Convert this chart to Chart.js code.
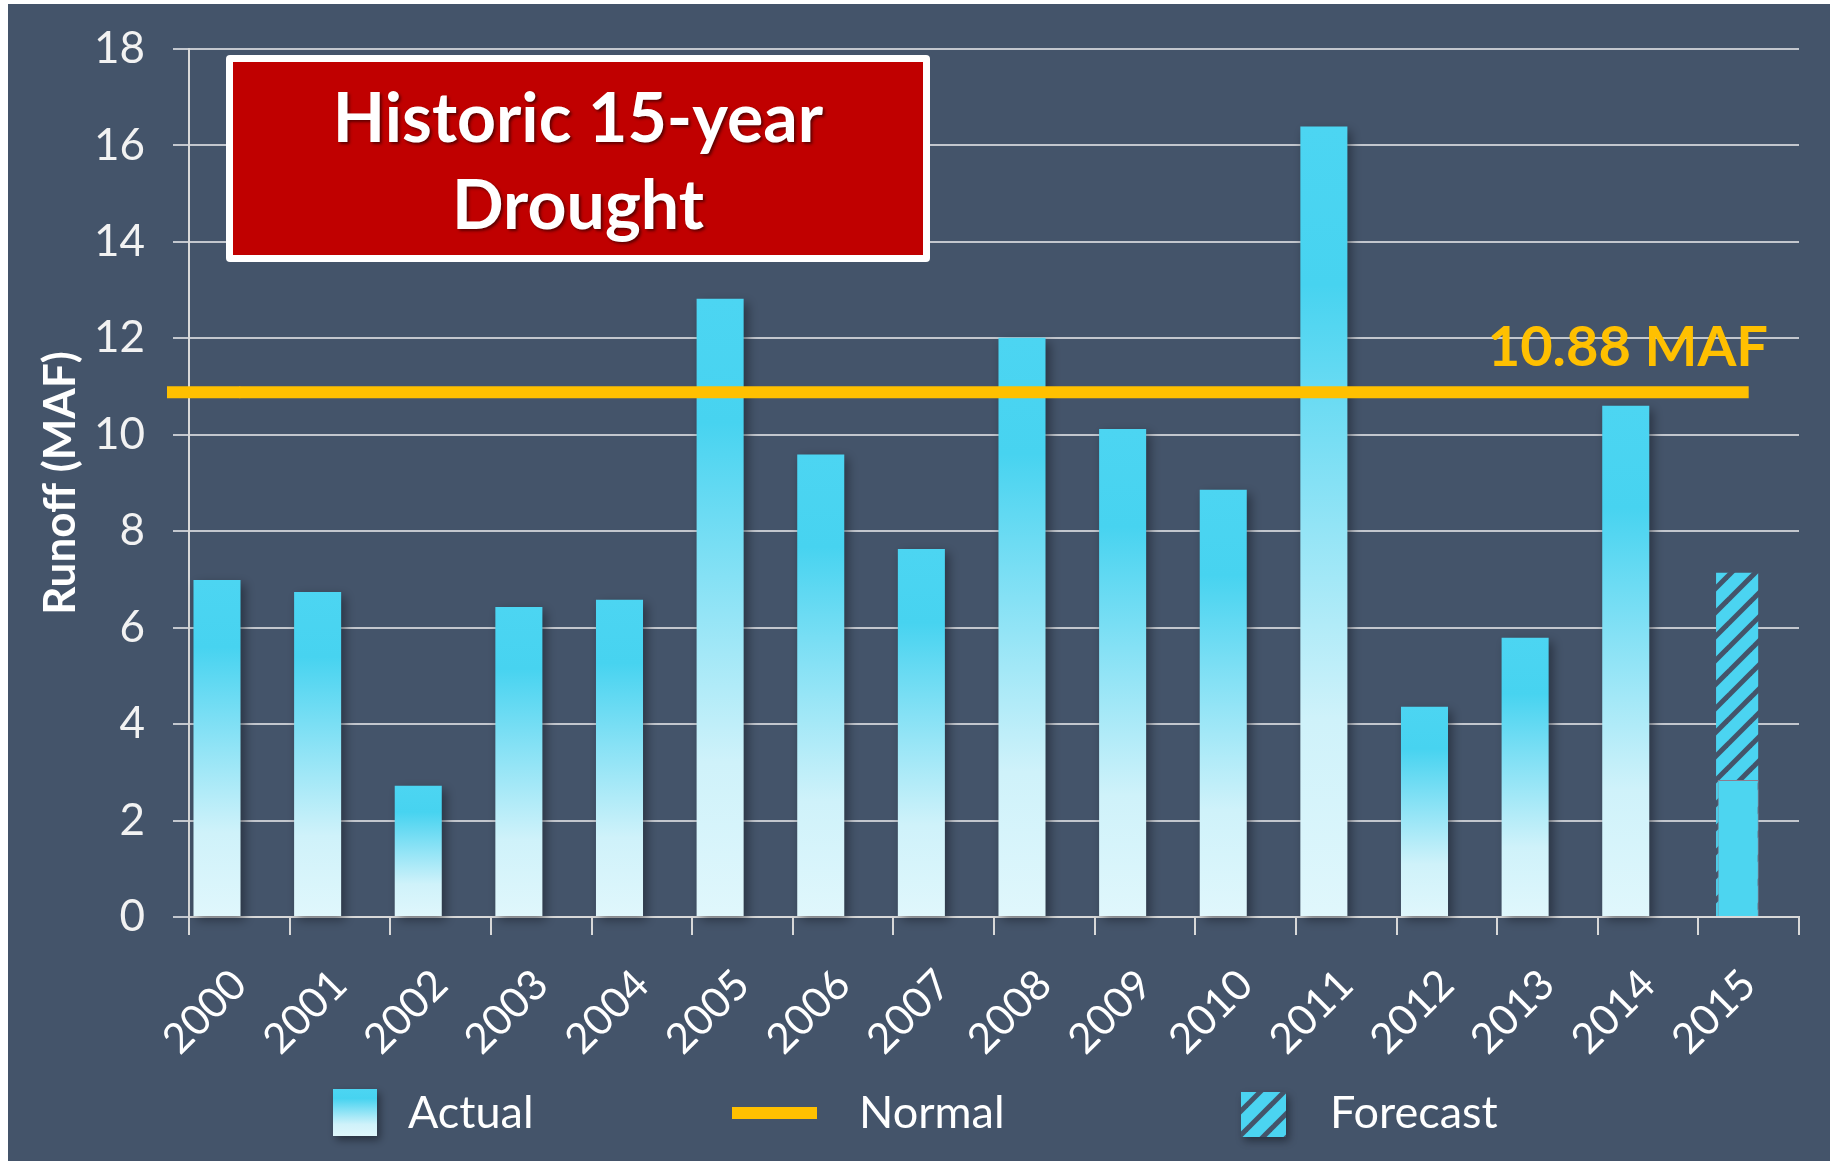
<!DOCTYPE html>
<html><head><meta charset="utf-8">
<script src="https://cdn.jsdelivr.net/npm/chart.js@4.4.0/dist/chart.umd.min.js"></script>
<style>
html,body{margin:0;padding:0;background:#ffffff;}
#wrap{position:relative;width:1830px;height:1161px;}
canvas{display:block;}
</style></head><body>
<div id="wrap"><canvas id="c" width="1830" height="1161"></canvas></div>
<script>
// ---------- data ----------
const years = ['2000','2001','2002','2003','2004','2005','2006','2007','2008','2009','2010','2011','2012','2013','2014','2015'];
const actual = [6.99, 6.74, 2.72, 6.43, 6.58, 12.82, 9.59, 7.63, 12.01, 10.12, 8.86, 16.39, 4.36, 5.79, 10.60, 2.84];
const forecast = [null, null, null, null, null, null, null, null, null, null, null, null, null, null, null, 7.14];
const normalValue = 10.88;
const yMin = 0, yMax = 18, yStep = 2;
const yTitle = 'Runoff (MAF)';
const normalLabel = '10.88 MAF';
const titleLines = ['Historic 15-year', 'Drought'];
const legendLabels = ['Actual', 'Normal', 'Forecast'];

// ---------- styles ----------
const BG = '#44546A';
const CYAN = '#4BD4F1';
const GOLD = '#FFC000';
const FONT = 'Lato, "Open Sans", sans-serif';
const gradStops = [[0,'#4CD5F2'],[0.2,'#47D3F0'],[0.45,'#85E1F5'],[0.75,'#CFF2FA'],[1,'#E0F7FC']];

function makeHatch(){
  const T = 24;
  const c = document.createElement('canvas');
  c.width = T; c.height = T;
  const g = c.getContext('2d');
  g.fillStyle = CYAN; g.fillRect(0,0,T,T);
  g.strokeStyle = BG; g.lineWidth = 5;
  for (let k=0;k<3;k++){
    g.beginPath(); g.moveTo(-T, k*T+T); g.lineTo(k*T+T, -T); g.stroke();
  }
  return c;
}
const hatchTile = makeHatch();
const ctx0 = document.getElementById('c').getContext('2d');
const hatch = ctx0.createPattern(hatchTile, 'repeat');

function vGradient(ctx, top, bot){
  const g = ctx.createLinearGradient(0, top, 0, bot);
  gradStops.forEach(s => g.addColorStop(s[0], s[1]));
  return g;
}

function actualFill(c){
  const chart = c.chart;
  if (!chart.chartArea || c.type !== 'data' || c.raw == null) return CYAN;
  const y = chart.scales.y;
  return vGradient(chart.ctx, y.getPixelForValue(c.raw), y.getPixelForValue(0));
}

// Actual split: years with a forecast get the flat forecast-year bar
const actualMeasured = actual.map((v, i) => forecast[i] == null ? v : null);
const actualPartial = actual.map((v, i) => forecast[i] != null ? v : null);
const normalData = years.map(() => normalValue);
const spacer = years.map(() => null);

// ---------- plugins ----------
const bgPlugin = {
  id: 'bg',
  beforeDraw(chart){
    const ctx = chart.ctx;
    ctx.save();
    ctx.fillStyle = '#ffffff'; ctx.fillRect(0,0,chart.width,chart.height);
    ctx.fillStyle = BG; ctx.fillRect(8,4,chart.width-8,chart.height-4);
    ctx.restore();
  }
};

const fxPlugin = {
  id: 'fx',
  beforeDatasetDraw(chart, args){
    const ds = chart.data.datasets[args.index];
    chart.ctx.save();
    if (ds.shadow){
      chart.ctx.shadowColor = 'rgba(20,25,35,0.55)';
      chart.ctx.shadowBlur = 10;
      chart.ctx.shadowOffsetX = 4;
      chart.ctx.shadowOffsetY = 4;
    }
  },
  afterDatasetDraw(chart, args){
    const ds = chart.data.datasets[args.index];
    const ctx = chart.ctx;
    ctx.restore();
    if (ds.label === 'Normal'){
      const meta = chart.getDatasetMeta(args.index);
      const p0 = meta.data[0];
      const x = chart.scales.x;
      ctx.save();
      ctx.strokeStyle = GOLD; ctx.lineWidth = ds.borderWidth;
      ctx.beginPath(); ctx.moveTo(x.left - 22, p0.y); ctx.lineTo(p0.x + 1, p0.y); ctx.stroke();
      ctx.fillStyle = GOLD;
      ctx.font = 'bold 56px ' + FONT;
      ctx.textAlign = 'right'; ctx.textBaseline = 'alphabetic';
      ctx.fillText(normalLabel, 1768, p0.y - 26);
      ctx.restore();
    }
  }
};

const overlayPlugin = {
  id: 'overlay',
  afterDraw(chart){
    const ctx = chart.ctx;
    // title box
    ctx.save();
    ctx.fillStyle = '#ffffff';
    ctx.beginPath(); ctx.roundRect(226, 55, 704, 207, 4); ctx.fill();
    ctx.fillStyle = '#C00000';
    ctx.fillRect(233, 62, 690, 193);
    ctx.fillStyle = '#ffffff';
    ctx.font = 'bold 68px ' + FONT;
    ctx.textAlign = 'center'; ctx.textBaseline = 'alphabetic';
    ctx.shadowColor = 'rgba(60,0,0,0.75)';
    ctx.shadowBlur = 3; ctx.shadowOffsetX = 2; ctx.shadowOffsetY = 2;
    ctx.fillText(titleLines[0], 578, 142);
    ctx.fillText(titleLines[1], 578, 229);
    ctx.restore();

    // legend
    ctx.save();
    const cy = 1113;
    ctx.shadowColor = 'rgba(20,25,35,0.6)';
    ctx.shadowBlur = 8; ctx.shadowOffsetX = 3; ctx.shadowOffsetY = 4;
    ctx.fillStyle = vGradient(ctx, 1089, 1136);
    ctx.fillRect(333, 1089, 44, 47);
    ctx.fillStyle = hatch;
    ctx.fillRect(1241, 1092, 45, 45);
    ctx.shadowColor = 'transparent';
    ctx.strokeStyle = GOLD; ctx.lineWidth = 12;
    ctx.beginPath(); ctx.moveTo(732, cy); ctx.lineTo(817, cy); ctx.stroke();
    ctx.fillStyle = '#ffffff';
    ctx.font = '45px ' + FONT;
    ctx.textAlign = 'left'; ctx.textBaseline = 'middle';
    ctx.fillText(legendLabels[0], 408, cy);
    ctx.fillText(legendLabels[1], 859, cy);
    ctx.fillText(legendLabels[2], 1330, cy);
    ctx.restore();
  }
};

// ---------- chart ----------
new Chart(document.getElementById('c'), {
  data: {
    labels: years,
    datasets: [
      { type: 'line', label: 'Normal', data: normalData, borderColor: GOLD, borderWidth: 12,
        pointRadius: 0, borderCapStyle: 'butt', order: 0, clip: false, fill: false },
      { type: 'bar', label: 'Actual', data: actualMeasured, stack: 'a', backgroundColor: actualFill,
        borderWidth: 0, order: 1, clip: false, shadow: true,
        categoryPercentage: 0.887, barPercentage: 1.054 },
      { type: 'bar', label: 'Actual (to date)', data: actualPartial, stack: 'a', backgroundColor: '#4DD5F0',
        borderWidth: 1, borderColor: '#8C7C8E', order: 1, clip: false,
        categoryPercentage: 0.42, barPercentage: 1.94 },
      { type: 'bar', label: 'Forecast', data: forecast, stack: 'a', backgroundColor: hatch,
        borderWidth: 0, order: 2, clip: false,
        categoryPercentage: 0.46, barPercentage: 1.82 },
      { type: 'bar', label: 'spacer', data: spacer, stack: 'b', backgroundColor: 'rgba(0,0,0,0)',
        order: 3, categoryPercentage: 0.887, barPercentage: 1.054 }
    ]
  },
  options: {
    responsive: false,
    animation: false,
    devicePixelRatio: 1,
    layout: { padding: { left: 8, right: 31, top: 38, bottom: 0 } },
    plugins: { legend: { display: false }, tooltip: { enabled: false } },
    scales: {
      x: {
        offset: true,
        grid: { display: true, drawOnChartArea: false, drawTicks: true, tickLength: 18, offset: true,
                color: '#D9D9D9', lineWidth: 2 },
        border: { display: true, color: '#D9D9D9', width: 2 },
        ticks: { color: '#ffffff', font: { family: FONT, size: 42 }, maxRotation: 45, minRotation: 45,
                 padding: 25, autoSkip: false },
        afterFit(s){ s.height = 244; }
      },
      y: {
        min: yMin, max: yMax, stacked: false,
        ticks: { stepSize: yStep, color: '#F2F2F2', font: { family: FONT, size: 44, lineHeight: 0.95 }, padding: 28 },
        grid: { color: '#C3C7CE', lineWidth: 2, tickLength: 16, drawTicks: true },
        border: { display: true, color: '#D9D9D9', width: 2 },
        title: { display: true, text: yTitle, color: '#ffffff',
                 font: { family: FONT, size: 44, weight: 'bold' }, padding: { top: 26, bottom: 0 } },
        afterFit(s){ s.width = 181; }
      }
    }
  },
  plugins: [bgPlugin, fxPlugin, overlayPlugin]
});
</script>
</body></html>
